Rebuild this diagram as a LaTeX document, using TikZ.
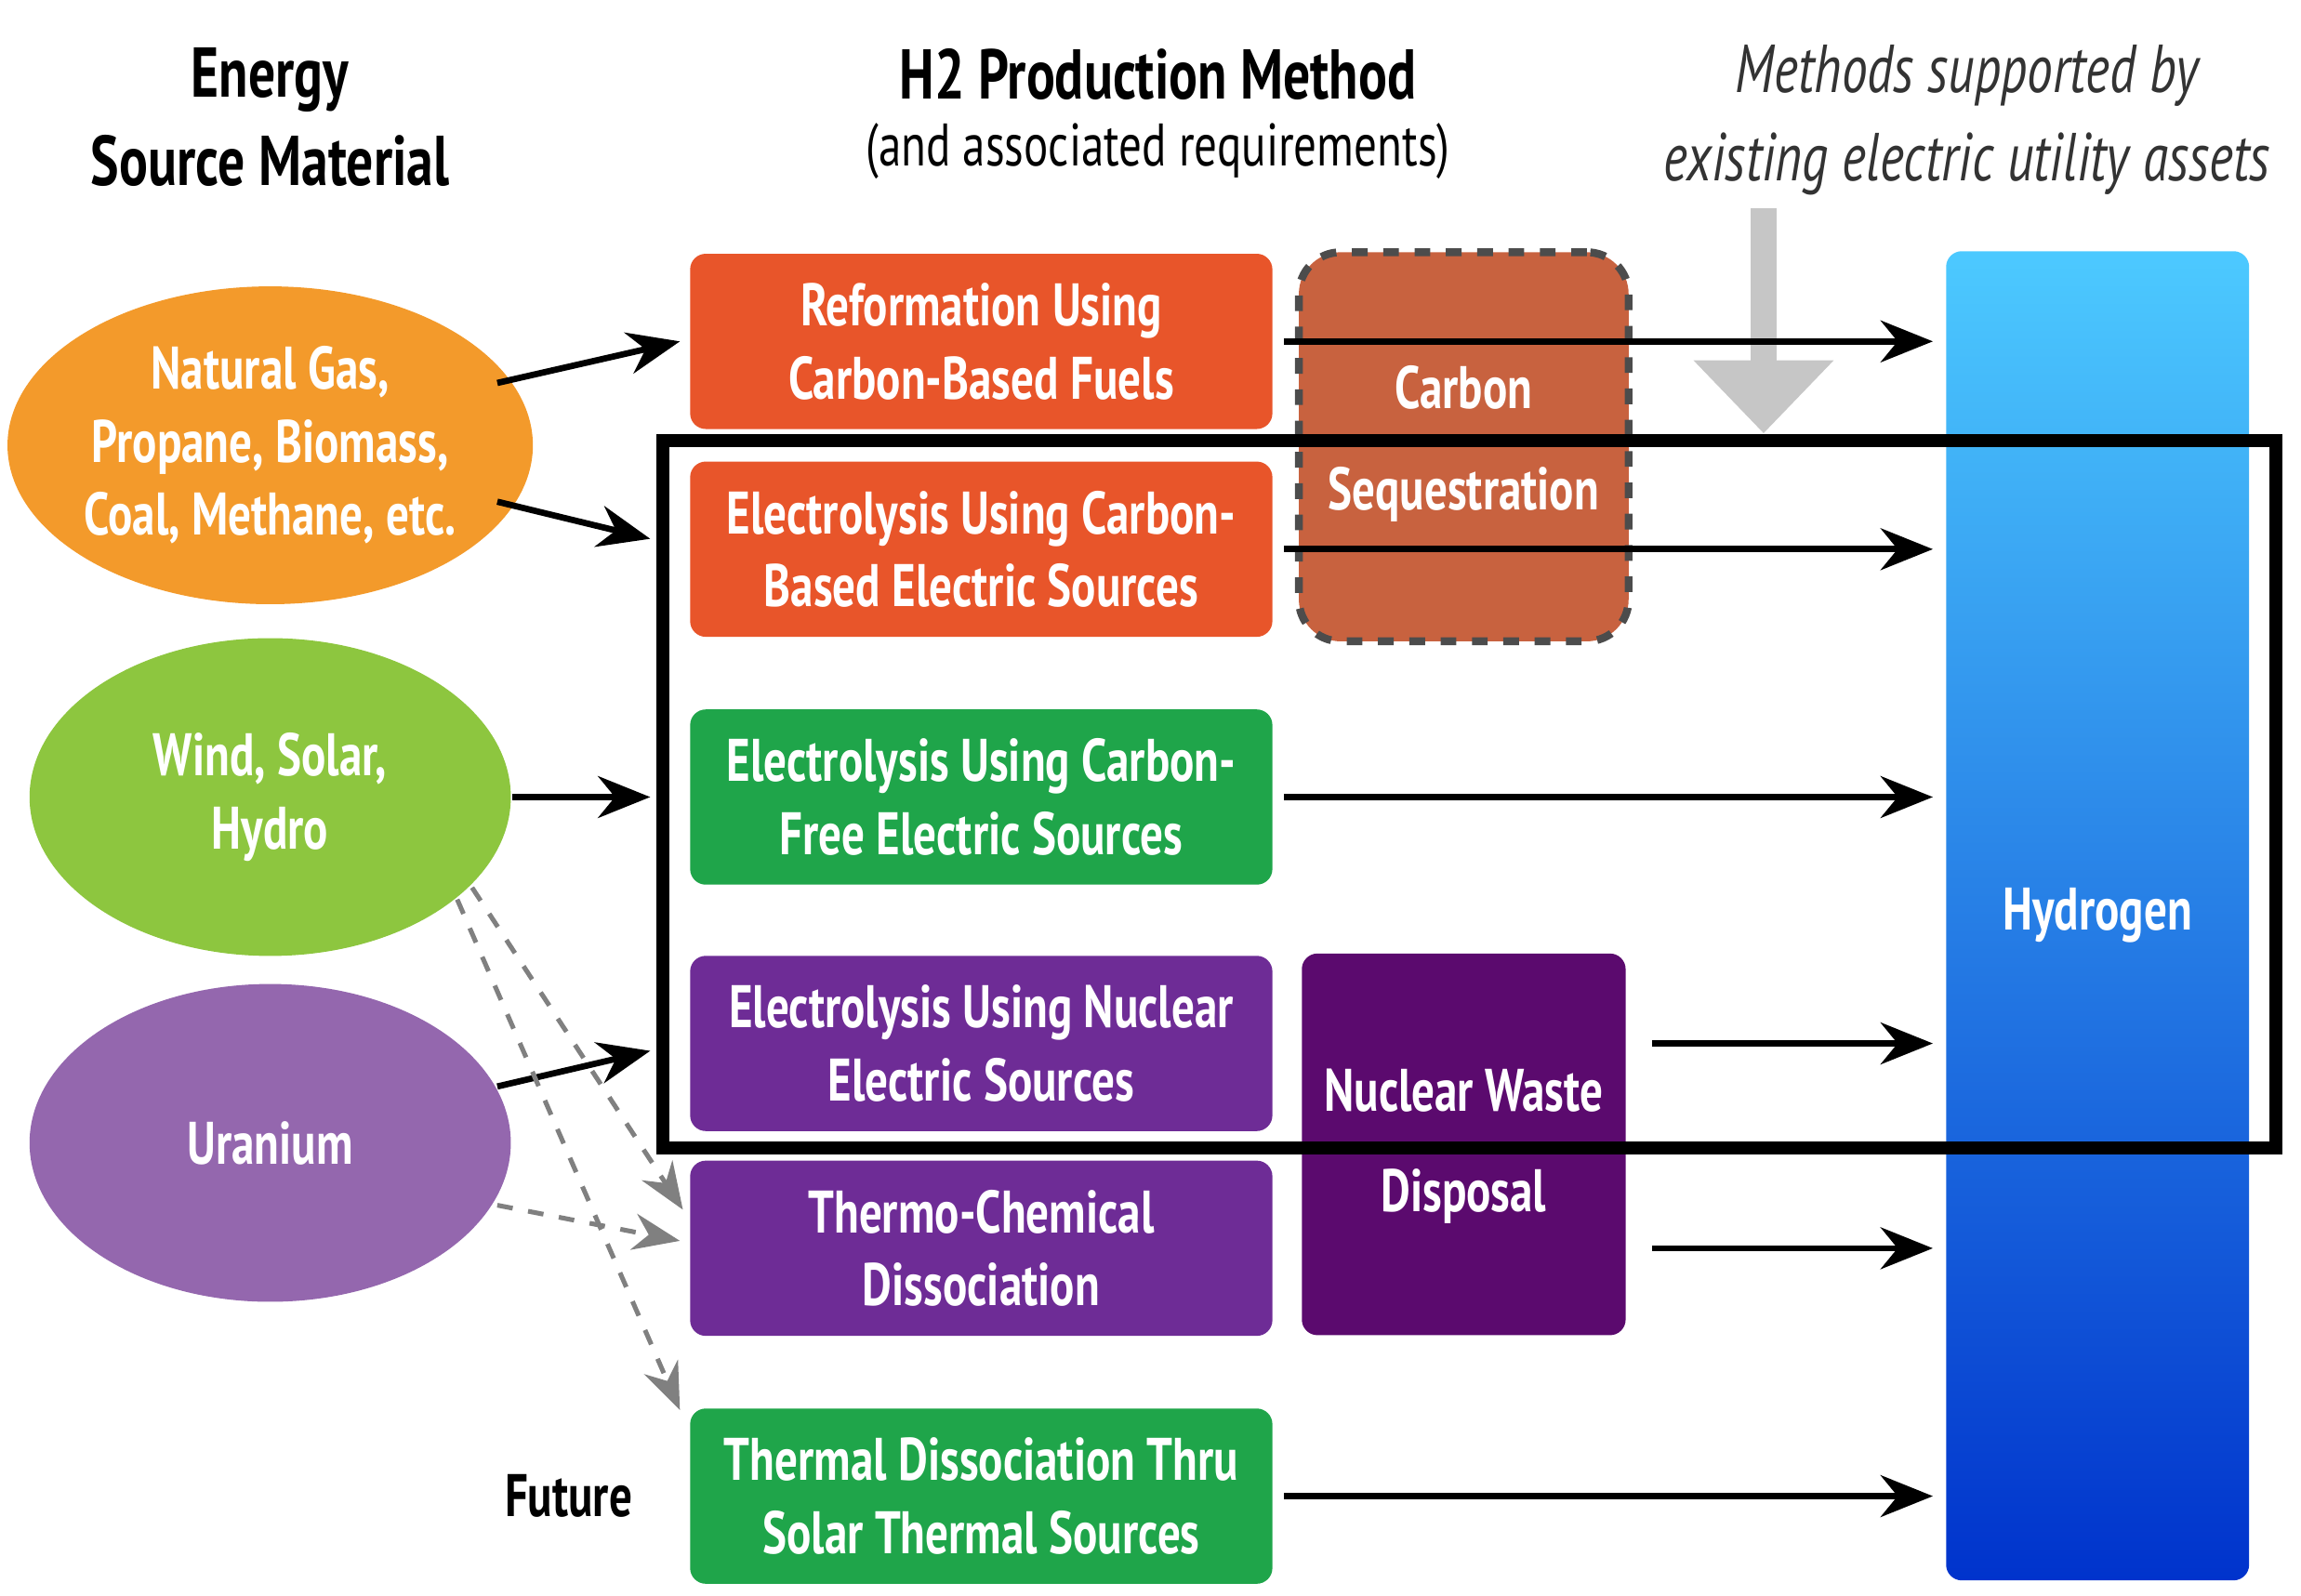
\documentclass[tikz,border=0pt]{standalone}
\usepackage{fontspec}
\setmainfont{PT Sans}[FakeStretch=0.76]
\usetikzlibrary{arrows.meta,shapes.geometric}
\definecolor{orE}{HTML}{F39A2B}
\definecolor{grE}{HTML}{8DC63F}
\definecolor{puE}{HTML}{9467AE}
\definecolor{orB}{HTML}{E8552A}
\definecolor{grB}{HTML}{1FA54A}
\definecolor{puB}{HTML}{6E2C96}
\definecolor{csB}{HTML}{C8623F}
\definecolor{nwB}{HTML}{5B0A6E}
\begin{document}
\begin{tikzpicture}[x=0.01cm,y=-0.01cm,
  ell/.style={ellipse,minimum width=3.24cm,minimum height=2.14cm,text=white,font=\bfseries\fontsize{11.5}{14}\selectfont,align=center,inner sep=0},
  box/.style={rounded corners=3pt,text=white,font=\bfseries\fontsize{11.5}{14}\selectfont,align=center,minimum width=3.92cm,minimum height=1.18cm,inner sep=0},
  wt/.style={text=white,font=\bfseries\fontsize{11.5}{14}\selectfont},
  arr/.style={-{Stealth[length=10pt,width=8pt]},line width=1.2pt},
  darr/.style={-{Stealth[length=9pt,width=7pt]},dashed,gray,line width=0.9pt},
  hd/.style={font=\bfseries\fontsize{13.5}{17}\selectfont,align=center}]
\useasboundingbox (0,0) rectangle (1550,1075);
\node[hd] (t1) at (182,79) {Energy\\Source Material};
\node[hd] (t2) at (780,50) {H2 Production Method};
\node[font=\fontsize{11.5}{14}\selectfont] (t3) at (780,102) {(and associated requirements)};
\node[font=\itshape\fontsize{13}{17}\selectfont,align=center,text=black!80] (t4) at (1325,81) {Methods supported by\\existing electric utility assets};
\coordinate (ga) at (1188,140);
\coordinate (gb) at (1188,292);
\draw[line width=5pt,gray!45,-{Triangle[length=14pt,width=26pt]}] (ga) -- (gb);
% ellipses
\node[ell,fill=orE] (e1) at (182,300) {Natural Gas,\\Propane, Biomass,\\Coal, Methane, etc.};
\node[ell,fill=grE] (e2) at (182,537) {Wind, Solar,\\Hydro};
\node[ell,fill=puE] (e3) at (182,770) {Uranium};
% side boxes
\node[draw=gray!60!black,dashed,line width=1.5pt,fill=csB,rounded corners=8pt,minimum width=2.22cm,minimum height=2.62cm,inner sep=0] (cs) at (986,301) {};
\node[wt] (cst) at (986,261) {Carbon};
\node[wt] (css) at (986,333) {Sequestration};
\node[fill=nwB,rounded corners=3pt,minimum width=2.18cm,minimum height=2.57cm,inner sep=0] (nw) at (986,771) {};
\node[wt] (nwt) at (986,735) {Nuclear Waste};
\node[wt] (nwd) at (986,806) {Disposal};
% method boxes
\node[box,fill=orB] (b1) at (661,230) {Reformation Using\\Carbon-Based Fuels};
\node[box,fill=orB] (b2) at (661,370) {Electrolysis Using Carbon-\\Based Electric Sources};
\node[box,fill=grB] (b3) at (661,537) {Electrolysis Using Carbon-\\Free Electric Sources};
\node[box,fill=puB] (b4) at (661,703) {Electrolysis Using Nuclear\\Electric Sources};
\node[box,fill=puB] (b5) at (661,841) {Thermo-Chemical\\Dissociation};
\node[box,fill=grB] (b6) at (661,1008) {Thermal Dissociation Thru\\Solar Thermal Sources};
\node[font=\bfseries\fontsize{11.5}{14}\selectfont] (fu) at (383,1008) {Future};
% hydrogen
\node[rounded corners=3pt,top color=blue!30!cyan!70!white,bottom color=blue!75!cyan!80!black,minimum width=2.04cm,minimum height=8.95cm,inner sep=0,wt] (h) at (1413,617) {Hydrogen};
% black frame
\node[draw=black,line width=2.5pt,minimum width=10.86cm,minimum height=4.76cm,inner sep=0] (fr) at (990,535) {};
% arrows to hydrogen
\foreach \y/\n in {230/1,370/2,537/3,1008/6}{
  \coordinate (s\n) at (865,\y); \coordinate (d\n) at (1302,\y);
  \draw[arr] (s\n) -- (d\n);}
\foreach \y/\n in {703/4,841/5}{
  \coordinate (s\n) at (1113,\y); \coordinate (d\n) at (1302,\y);
  \draw[arr] (s\n) -- (d\n);}
% source arrows
\coordinate (o1) at (335,258); \coordinate (i1) at (458,230);
\coordinate (o2) at (335,338); \coordinate (i2) at (438,363);
\coordinate (o3) at (345,537); \coordinate (i3) at (438,537);
\coordinate (o4) at (335,732); \coordinate (i4) at (438,708);
\draw[arr] (o1) -- (i1); \draw[arr] (o2) -- (i2);
\draw[arr] (o3) -- (i3); \draw[arr] (o4) -- (i4);
\coordinate (g1) at (318,598); \coordinate (g2) at (308,606);
\coordinate (u1) at (335,812);
\coordinate (tA) at (460,815); \coordinate (tB) at (458,950); \coordinate (tC) at (458,836);
\draw[darr] (g1) -- (tA); \draw[darr] (g2) -- (tB); \draw[darr] (u1) -- (tC);
\end{tikzpicture}
\end{document}
